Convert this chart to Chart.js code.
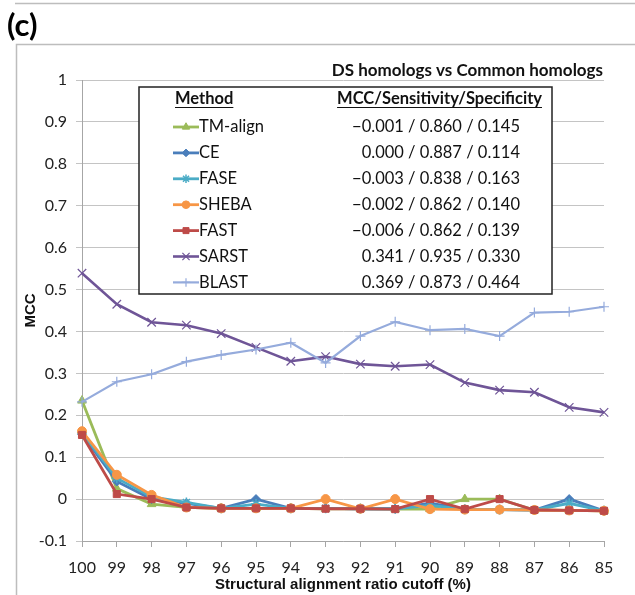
<!DOCTYPE html>
<html>
<head>
<meta charset="utf-8">
<script src="https://cdn.jsdelivr.net/npm/chart.js@4/dist/chart.umd.min.js"></script>
<style>
  html, body { margin: 0; padding: 0; background: #fff; }
  #wrap { position: relative; width: 635px; height: 595px; }
</style>
</head>
<body>
<div id="wrap"><canvas id="mcc" width="635" height="595"></canvas></div>
<script>
// Structural alignment ratio cutoff (%) along the x axis
const cutoffs = ['100', '99', '98', '97', '96', '95', '94', '93', '92', '91', '90', '89', '88', '87', '86', '85'];

// MCC per method at each cutoff
const tmAlign = [0.235, 0.025, -0.012, -0.020, -0.022, -0.022, -0.022, -0.023, -0.023, -0.024, -0.024, 0.000, 0.000, -0.026, -0.027, -0.028];
const ce      = [0.155, 0.042, 0.000, -0.010, -0.022, 0.000, -0.022, -0.022, -0.023, -0.023, -0.010, -0.024, -0.025, -0.026, 0.000, -0.028];
const fase    = [0.158, 0.050, 0.005, -0.008, -0.022, -0.012, -0.022, -0.022, -0.023, -0.023, -0.015, -0.024, -0.025, -0.026, -0.010, -0.028];
const sheba   = [0.162, 0.058, 0.010, -0.020, -0.022, -0.022, -0.022, 0.000, -0.023, 0.000, -0.024, -0.025, -0.025, -0.026, -0.027, -0.028];
const fast    = [0.153, 0.012, 0.000, -0.020, -0.022, -0.022, -0.022, -0.023, -0.023, -0.024, 0.000, -0.024, 0.000, -0.026, -0.027, -0.028];
const sarst   = [0.539, 0.465, 0.422, 0.415, 0.395, 0.362, 0.329, 0.340, 0.322, 0.317, 0.321, 0.278, 0.260, 0.255, 0.219, 0.207];
const blast   = [0.232, 0.280, 0.298, 0.328, 0.344, 0.357, 0.373, 0.325, 0.389, 0.423, 0.403, 0.406, 0.389, 0.445, 0.447, 0.459];

const methods = ['TM-align', 'CE', 'FASE', 'SHEBA', 'FAST', 'SARST', 'BLAST'];
// MCC / Sensitivity / Specificity summary for each method
const summaryStats = [
  '\u22120.001 / 0.860 / 0.145',
  '0.000 / 0.887 / 0.114',
  '\u22120.003 / 0.838 / 0.163',
  '\u22120.002 / 0.862 / 0.140',
  '\u22120.006 / 0.862 / 0.139',
  '0.341 / 0.935 / 0.330',
  '0.369 / 0.873 / 0.464'
];
const yTicks = [-0.1, 0, 0.1, 0.2, 0.3, 0.4, 0.5, 0.6, 0.7, 0.8, 0.9, 1];

const seriesValues = [tmAlign, ce, fase, sheba, fast, sarst, blast];
const styles = [
  { color: '#9BBB59', point: 'triangle', radius: 5,   width: 2.8, pw: 1 },
  { color: '#4A7EBB', point: 'rectRot',  radius: 4.5, width: 2.8, pw: 1 },
  { color: '#4BACC6', point: 'star',     radius: 5,   width: 2.8, pw: 1.5 },
  { color: '#F79646', point: 'circle',   radius: 4.5, width: 2.8, pw: 1 },
  { color: '#BE4B48', point: 'rect',     radius: 5,   width: 2.8, pw: 1 },
  { color: '#6F5597', point: 'crossRot', radius: 6,   width: 2.6, pw: 1.2 },
  { color: '#95ABDC', point: 'cross',    radius: 5,   width: 2.2, pw: 1.2 }
];

const datasets = methods.map((name, i) => ({
  label: name,
  data: seriesValues[i],
  borderColor: styles[i].color,
  backgroundColor: styles[i].color,
  borderWidth: styles[i].width,
  pointStyle: styles[i].point,
  pointRadius: styles[i].radius,
  pointBorderWidth: styles[i].pw,
  pointBackgroundColor: styles[i].color,
  pointBorderColor: styles[i].color,
  tension: 0,
  order: methods.length - 1 - i
}));

// Panel frame, panel letter and chart heading
const framePlugin = {
  id: 'panelFrame',
  beforeDraw(chart) {
    const ctx = chart.ctx;
    ctx.save();
    ctx.fillStyle = '#fff';
    ctx.fillRect(0, 0, chart.width, chart.height);
    ctx.strokeStyle = '#bdbdbd';
    ctx.lineWidth = 1.5;
    ctx.beginPath();
    ctx.moveTo(15, 3.5); ctx.lineTo(chart.width + 2, 3.5);
    ctx.stroke();
    ctx.beginPath();
    ctx.moveTo(chart.width + 2, 44.5); ctx.lineTo(16.5, 44.5); ctx.lineTo(16.5, chart.height + 2);
    ctx.stroke();
    ctx.fillStyle = '#000';
    ctx.font = 'bold 31px Lato';
    ctx.textBaseline = 'alphabetic';
    ctx.textAlign = 'left';
    ctx.fillText('(c)', 7, 36);
    ctx.restore();
  },
  afterDraw(chart) {
    const ctx = chart.ctx;
    ctx.save();
    ctx.fillStyle = '#111';
    ctx.font = 'bold 17px Lato';
    ctx.textAlign = 'right';
    ctx.textBaseline = 'middle';
    ctx.fillText('DS homologs vs Common homologs', chart.chartArea.right - 1, 71);
    ctx.restore();
  }
};

// Boxed legend table with method markers and summary statistics
const legendTable = {
  id: 'legendTable',
  afterDraw(chart) {
    const ctx = chart.ctx;
    const box = { l: 139, t: 87, r: 552, b: 294 };
    ctx.save();
    ctx.fillStyle = '#fff';
    ctx.fillRect(box.l, box.t, box.r - box.l, box.b - box.t);
    ctx.strokeStyle = '#222';
    ctx.lineWidth = 1.5;
    ctx.strokeRect(box.l, box.t, box.r - box.l, box.b - box.t);

    ctx.fillStyle = '#111';
    ctx.strokeStyle = '#111';
    ctx.lineWidth = 1.2;
    ctx.font = 'bold 16.5px Lato';
    ctx.textBaseline = 'middle';
    ctx.textAlign = 'left';
    const hY = 99;
    ctx.fillText('Method', 175, hY);
    let w = ctx.measureText('Method').width;
    ctx.beginPath(); ctx.moveTo(175, hY + 8.5); ctx.lineTo(175 + w, hY + 8.5); ctx.stroke();
    ctx.textAlign = 'right';
    const h2 = 'MCC/Sensitivity/Specificity';
    ctx.fillText(h2, 542, hY);
    w = ctx.measureText(h2).width;
    ctx.beginPath(); ctx.moveTo(542 - w, hY + 8.5); ctx.lineTo(542, hY + 8.5); ctx.stroke();

    ctx.font = '16.5px Lato';
    chart.data.datasets.forEach((ds, i) => {
      const y = 127 + i * 25.9;
      ctx.strokeStyle = ds.borderColor;
      ctx.lineWidth = ds.borderWidth;
      ctx.beginPath(); ctx.moveTo(173, y); ctx.lineTo(199, y); ctx.stroke();
      ctx.fillStyle = ds.pointBackgroundColor;
      ctx.strokeStyle = ds.pointBorderColor;
      ctx.lineWidth = ds.pointBorderWidth;
      Chart.helpers.drawPoint(ctx, { pointStyle: ds.pointStyle, radius: ds.pointRadius * 0.85, rotation: 0, borderWidth: ds.pointBorderWidth }, 186, y);
      ctx.fillStyle = '#111';
      ctx.textAlign = 'left';
      ctx.fillText(ds.label, 199, y);
      ctx.textAlign = 'right';
      ctx.fillText(summaryStats[i], 520, y);
    });
    ctx.restore();
  }
};

new Chart(document.getElementById('mcc'), {
  type: 'line',
  data: { labels: cutoffs, datasets },
  options: {
    responsive: false,
    animation: false,
    devicePixelRatio: 1,
    layout: { padding: { left: 0, right: 31, top: 80, bottom: 0 } },
    plugins: { legend: { display: false }, tooltip: { enabled: false } },
    scales: {
      x: {
        type: 'category',
        offset: false,
        grid: { drawOnChartArea: false, drawTicks: true, tickLength: 6, color: '#a6a6a6' },
        border: { display: true, color: '#a6a6a6', width: 1 },
        ticks: { font: { family: 'Lato', size: 16 }, color: '#222', padding: 11, maxRotation: 0, autoSkip: false },
        title: {
          display: true,
          text: 'Structural alignment ratio cutoff (%)',
          font: { family: 'Liberation Sans', weight: 'bold', size: 15 },
          color: '#111',
          padding: { top: 0, bottom: 1 }
        },
        afterFit(scale) { scale.height = 54; }
      },
      y: {
        min: -0.1,
        max: 1,
        afterBuildTicks(scale) { scale.ticks = yTicks.map(v => ({ value: v })); },
        grid: { color: '#c4c4c4', tickLength: 6, lineWidth: 1 },
        border: { display: true, color: '#a6a6a6', width: 1 },
        ticks: {
          font: { family: 'Lato', size: 16 },
          color: '#222',
          padding: 9,
          callback: v => String(Math.round(v * 10) / 10)
        },
        title: {
          display: true,
          text: 'MCC',
          font: { family: 'Liberation Sans', weight: 'bold', size: 15 },
          color: '#111',
          padding: { top: 22, bottom: 0 }
        },
        afterFit(scale) { scale.width = 82; }
      }
    }
  },
  plugins: [framePlugin, legendTable]
});
</script>
</body>
</html>
